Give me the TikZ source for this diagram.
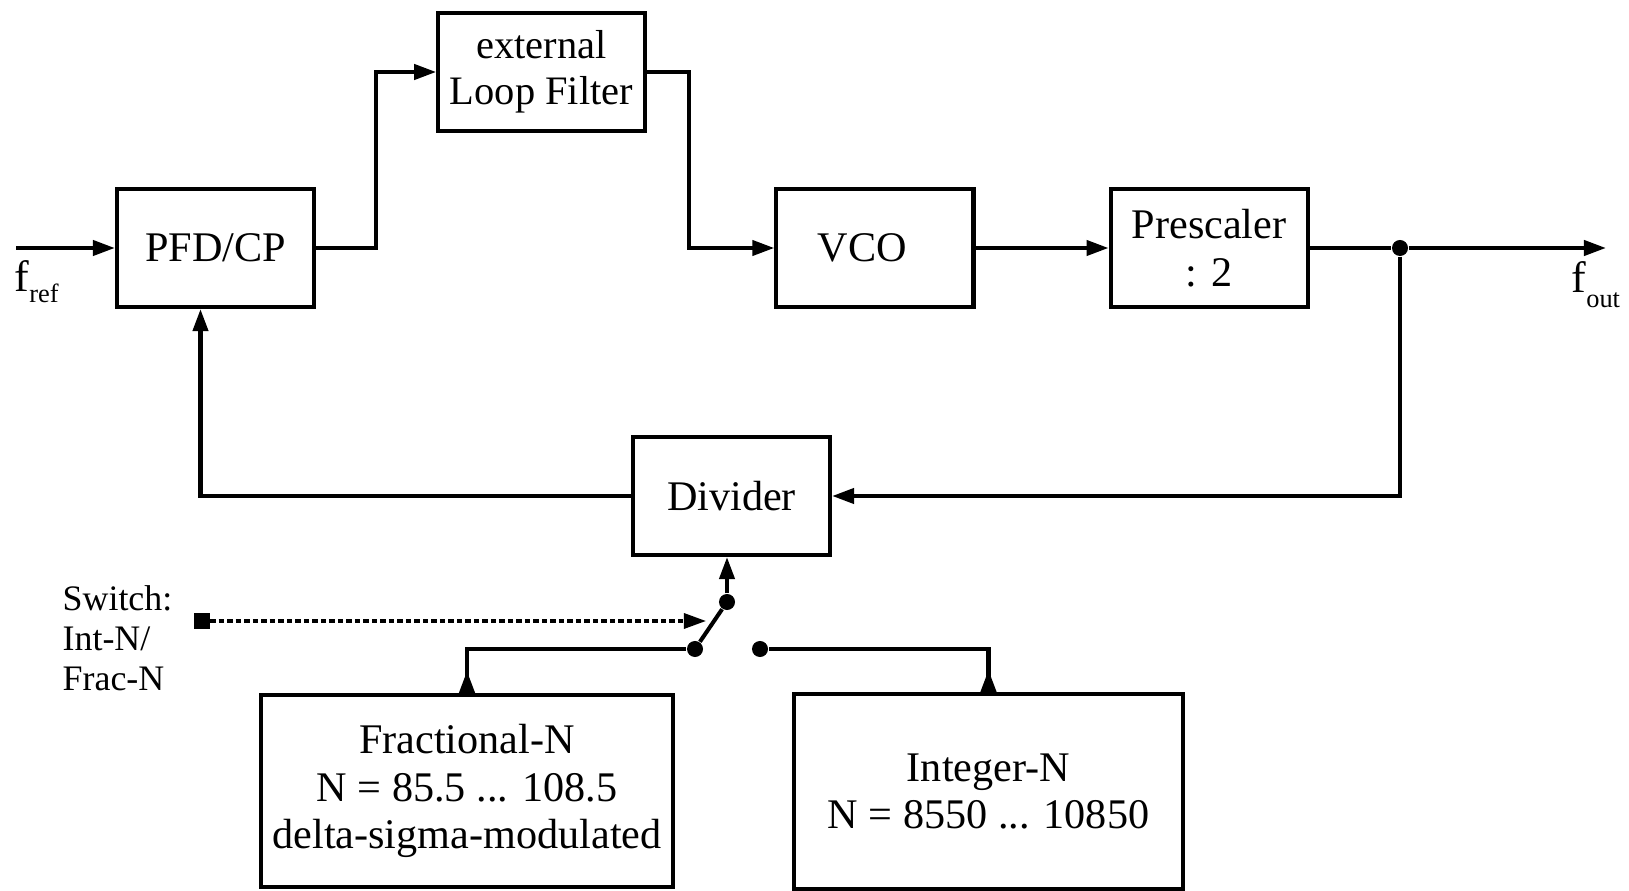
\documentclass[tikz,border=0pt]{standalone}
\usepackage{fontspec}
\setmainfont{Liberation Serif}
\usepackage{tikz}
\usetikzlibrary{arrows.meta, positioning}
\newcommand{\fsub}[2]{f\raisebox{#2}{\fontsize{7.5}{8}\selectfont #1}}

\begin{document}
\begin{tikzpicture}[x=0.01cm, y=-0.01cm,
	blk/.style={draw, line width=1.15pt, minimum width=1.97cm, minimum height=1.18cm, align=center, font=\fontsize{12}{13.6}\selectfont},
	wire/.style={line width=1.15pt},
	sig/.style={wire, -{Triangle[length=2.2mm, width=1.5mm]}},
	back/.style={wire, {Triangle[reversed, length=2.2mm, width=1.5mm]}-},
	dot/.style={circle, fill, inner sep=0pt, minimum size=1.6mm},
	lbl/.style={inner sep=0pt, font=\fontsize{12.5}{14}\selectfont},
	]
	\useasboundingbox (0,0) rectangle (1629,891);

	\node[blk] (pfd) at (215.5,248) {PFD/CP};
	\node[blk, right=4.58cm of pfd] (vco) {VCO\hspace{0.25cm}};
	\node[blk, right=1.33cm of vco] (presc) {Prescaler\\: 2};
	\node[blk, font=\fontsize{11.5}{13.1}\selectfont] (filt) at (541.5,72) {external\\Loop Filter};
	\node[blk] (div) at (731.5,496) {Divider};
	\node[blk, minimum width=4.06cm, minimum height=1.92cm] (frac) at (467,791) {Fractional-N\\N = 85.5 ... 108.5\\delta-sigma-modulated};
	\node[blk, minimum width=3.89cm, minimum height=1.95cm] (intn) at (988.5,791.5) {Integer-N\\N = 8550 ... 10850};

	\coordinate (fin) at (16,248);
	\coordinate (fo) at (1606,248);
	\node[dot] (jn) at (1400,248) {};
	\node[dot] (sw) at (727,602) {};
	\node[dot] (ca) at (695,649) {};
	\node[dot] (cb) at (760,649) {};
	\node[fill, inner sep=0pt, minimum size=1.5mm] (sq) at (202,621) {};
	\coordinate (dend) at (706,621);

	\node[lbl, anchor=base west] (fref) at (14,292) {\fsub{ref}{-3.1pt}};
	\node[lbl, anchor=base west] (fout) at (1571,293) {\fsub{out}{-4.2pt}};
	\node[lbl, anchor=west, align=left, font=\fontsize{10.2}{11.4}\selectfont] (swl) at (62,638) {Switch:\\Int-N/\\Frac-N};

	\draw[sig] (fin) -- (pfd);
	\draw[sig] (pfd.east) -- ++(60,0) |- (filt);
	\draw[sig] (filt.east) -- ++(42,0) |- (vco);
	\draw[sig] (vco) -- (presc);
	\draw[wire] (presc) -- (jn);
	\draw[sig] (jn) -- (fo);
	\draw[sig] (jn) |- (div);
	\draw[sig] (div) -| ([xshift=-0.15cm]pfd.south);

	\draw[sig] (sw) -- (sw |- div.south);
	\draw[wire] (sw) -- (ca);
	\draw[back] (frac) |- (ca);
	\draw[back] (intn) |- (cb);
	\draw[sig, line width=0.9pt, dash pattern=on 0.55mm off 0.3mm] (sq) -- (dend);
\end{tikzpicture}
\end{document}
